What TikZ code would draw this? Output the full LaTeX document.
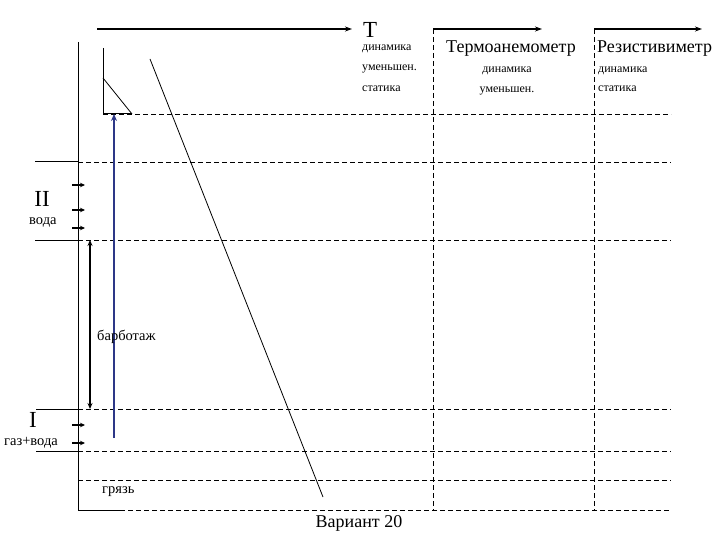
\documentclass[tikz,border=0pt]{standalone}
\usepackage{fontspec}
\setmainfont{Liberation Serif}
\usetikzlibrary{arrows.meta}
\definecolor{bluearr}{RGB}{45,55,135}
\tikzset{
  dline/.style={black, line width=0.9pt, dash pattern=on 5pt off 3pt},
  sline/.style={black, line width=1pt},
  thinline/.style={black, line width=0.8pt},
  toparrow/.style={black, line width=1.6pt, -{Stealth[length=7pt,width=5pt]}},
  smallarrow/.style={black, line width=1.6pt, -{Stealth[length=5pt,width=4.5pt]}},
  small/.style={font=\fontsize{12}{14}\selectfont, inner sep=0pt},
  lbl/.style={font=\fontsize{14.5}{16}\selectfont, inner sep=0pt},
  mid/.style={font=\fontsize{18}{20}\selectfont, inner sep=0pt},
  big/.style={font=\fontsize{23}{25}\selectfont, inner sep=0pt}
}
\begin{document}
\begin{tikzpicture}[x=1pt,y=-1pt]
\useasboundingbox (0,0) rectangle (720,540);
% coordinates
\coordinate (a1s) at (97,29);  \coordinate (a1e) at (352,29);
\coordinate (a2s) at (433,29); \coordinate (a2e) at (542,29);
\coordinate (a3s) at (594,29); \coordinate (a3e) at (702,29);
% top arrows
\draw[toparrow] (a1s) -- (a1e);
\draw[toparrow] (a2s) -- (a2e);
\draw[toparrow] (a3s) -- (a3e);
% dashed verticals
\draw[dline] (433,29) -- (433,510);
\draw[dline] (594,29) -- (594,510);
% left frame
\draw[sline] (78,42) -- (78,510) -- (120,510);
\draw[dline] (120,510) -- (671,510);
% horizontal lines
\draw[dline] (103,114) -- (671,114);
\draw[sline] (35,162) -- (78,162); \draw[dline] (78,162) -- (671,162);
\draw[sline] (35,240) -- (78,240); \draw[dline] (78,240) -- (671,240);
\draw[sline] (36,409) -- (78,409); \draw[dline] (78,409) -- (671,409);
\draw[sline] (36,451) -- (78,451); \draw[dline] (78,451) -- (671,451);
\draw[dline] (78,480) -- (671,480);
% small axes
\draw[sline] (103,48) -- (103,114) -- (132,114);
\draw[thinline] (103,78) -- (132,114);
% long diagonal
\draw[thinline] (150,59) -- (323,497);
% small arrows
\foreach \yy in {185,210,228,425,443}
  \draw[smallarrow] (72,\yy) -- (85,\yy);
% double arrow
\coordinate (dbt) at (90,240); \coordinate (dbb) at (90,409);
\draw[black, line width=1.8pt, {Stealth[length=6pt,width=5pt]}-{Stealth[length=6pt,width=5pt]}] (dbt) -- (dbb);
% blue arrow
\coordinate (bls) at (114,438); \coordinate (ble) at (114,114);
\draw[bluearr, line width=1.8pt, -{Stealth[length=7pt,width=6pt]}] (bls) -- (ble);
% texts
\node[big, anchor=west] (T) at (363,30) {Т};
\node[small, anchor=west] (t1a) at (362,49) {динамика};
\node[small, anchor=west] (t1b) at (362,69) {уменьшен.};
\node[small, anchor=west] (t1c) at (362,89) {статика};
\node[mid] (therm) at (511,49) {Термоанемометр};
\node[small] (t2a) at (507,71) {динамика};
\node[small] (t2b) at (507,91) {уменьшен.};
\node[mid, anchor=west] (resist) at (597,49) {Резистивиметр};
\node[small, anchor=west] (t3a) at (598,71) {динамика};
\node[small, anchor=west] (t3b) at (598,89) {статика};
\node[big] (II) at (42,199) {II};
\node[lbl, anchor=west] (voda) at (29,222) {вода};
\node[big] (I) at (33,420) {I};
\node[lbl, anchor=west] (gv) at (4,443) {газ+вода};
\node[lbl, anchor=west] (barb) at (97,337) {барботаж};
\node[lbl, anchor=west] (mud) at (102,492) {грязь};
\node[mid] (var) at (359,523) {Вариант 20};
\end{tikzpicture}
\end{document}
